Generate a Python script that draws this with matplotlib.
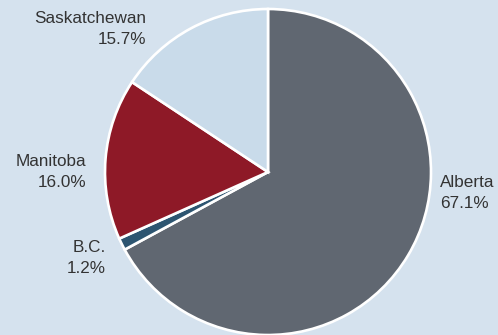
import matplotlib.pyplot as plt

### data ###

provinces = ['Alberta', 'B.C.', 'Manitoba', 'Saskatchewan']
shares = [67.1, 1.2, 16.0, 15.7]
colors = ['#606771', '#2d5571', '#8e1927', '#c9dbea']

### figure ###

W, H = 498, 335
bg = '#d5e2ee'

fig = plt.figure(figsize=(W / 100, H / 100), dpi=100, facecolor=bg)
ax = fig.add_axes([0, 0, 1, 1])
ax.set_facecolor(bg)

# pie in pixel coordinates (y measured from the bottom)
cx, cy, r = 268, H - 172, 163
ax.pie(shares, colors=colors, startangle=90, counterclock=False,
       center=(cx, cy), radius=r, frame=True,
       wedgeprops=dict(edgecolor='white', linewidth=1.9))
ax.set_xlim(0, W)
ax.set_ylim(0, H)
ax.axis('off')

# labels: anchor x, first baseline (pixels from the top), alignment
label_pos = [(440, 187, 'left'), (106, 252, 'right'),
             (86, 166, 'right'), (146, 23, 'right')]
line_gap = 21

font = dict(fontsize=12.3, color='#333333',
            family=['Liberation Sans', 'DejaVu Sans'])

for name, val, (x, y, ha) in zip(provinces, shares, label_pos):
    ax.text(x, H - y, name, ha=ha, va='baseline', **font)
    ax.text(x, H - y - line_gap, f'{val:.1f}%', ha=ha, va='baseline', **font)

fig.savefig('out.png', dpi=100, facecolor=bg)
